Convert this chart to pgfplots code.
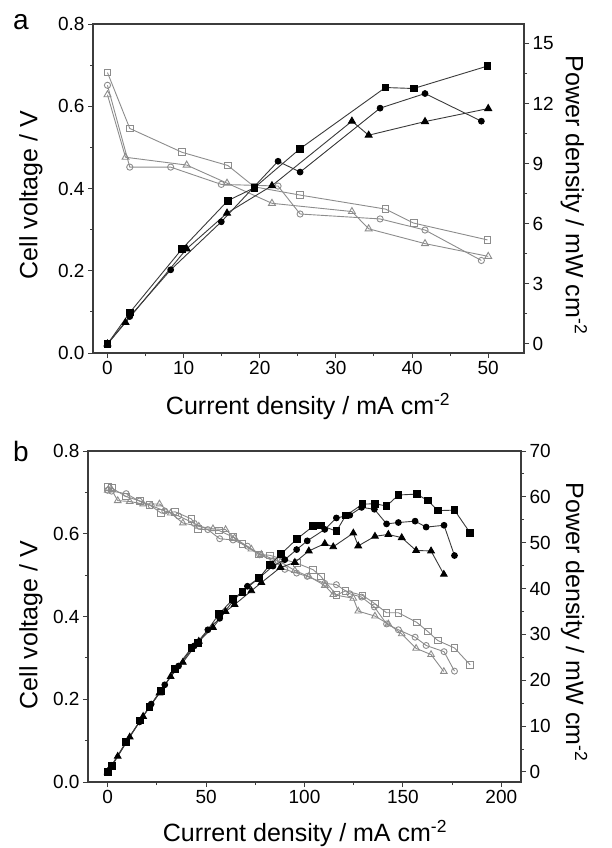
\documentclass[border=0pt]{standalone}
\usepackage{fontspec}
\setmainfont{Liberation Sans}
\usepackage{pgfplots}
\pgfplotsset{compat=1.18}

\definecolor{axc}{HTML}{3C3C3C}
\definecolor{opc}{HTML}{8C8C8C}
\definecolor{flc}{HTML}{3A3A3A}

\pgfplotsset{
 base/.style={scale only axis, anchor=south west, tick align=outside,
   axis line style={draw=axc, line width=1.1pt},
   major tick length=5pt, minor tick length=3pt,
   every tick/.append style={draw=axc, line width=1pt},
   minor x tick num=1, minor y tick num=1,
   tick label style={font=\fontsize{19}{21}\selectfont, text=black},
   label style={font=\fontsize{25}{28}\selectfont},
   /pgf/number format/assume math mode=true,
   clip=false},
 op/.style={color=opc, line width=0.9pt, mark options={draw=opc, fill=white, line width=0.9pt, solid}},
 fl/.style={color=flc, line width=0.9pt, mark options={draw=black, fill=black, solid}},
}

\begin{document}
\begin{tikzpicture}
\useasboundingbox (0pt,0pt) rectangle (612pt,-848pt);

% ---------------- Panel a: voltage ----------------
\begin{axis}[base, at={(93pt,-353pt)}, width=431pt, height=329pt,
  xmin=-1.9, xmax=54.7, ymin=0, ymax=0.8,
  xtick={0,10,20,30,40,50}, ytick={0,0.2,0.4,0.6,0.8},
  xtick pos=lower, ytick pos=left,
  yticklabel style={/pgf/number format/.cd, fixed, fixed zerofill, precision=1},
  xlabel={Current density / mA cm\textsuperscript{-2}},
  ylabel={Cell voltage / V},
  xlabel style={at={(axis description cs:0.499,-0.188)}, anchor=base},
  ylabel style={at={(axis description cs:-0.129,0.48)}, anchor=base}]
\addplot[op, mark=square, mark size=3.4pt] coordinates {
(0,0.682) (2.93,0.546) (9.8,0.488) (15.8,0.456) (19.3,0.404) (25.3,0.384) (36.5,0.350) (40.2,0.316) (49.9,0.275)};
\addplot[op, mark=o, mark size=3.1pt] coordinates {
(0,0.651) (2.93,0.452) (8.3,0.452) (14.95,0.410) (22.4,0.406) (25.3,0.338) (35.8,0.326) (41.7,0.299) (49.1,0.225)};
\addplot[op, mark=triangle, mark size=4pt] coordinates {
(0,0.628) (2.37,0.476) (10.4,0.457) (15.7,0.413) (21.6,0.364) (32.1,0.344) (34.3,0.302) (41.7,0.266) (50,0.235)};
\end{axis}

% ---------------- Panel a: power ----------------
\begin{axis}[base, at={(93pt,-353pt)}, width=431pt, height=329pt,
  xmin=-1.9, xmax=54.7, ymin=-0.45, ymax=15.97,
  axis x line=none, axis y line*=right,
  ytick={0,3,6,9,12,15},
  ylabel={Power density / mW cm\textsuperscript{-2}},
  ylabel style={at={(axis description cs:1.097,0.48)}, anchor=base, rotate=180}]
\addplot[fl, mark=square*, mark size=3.4pt] coordinates {
(0,0) (2.93,1.57) (9.8,4.75) (15.8,7.15) (19.3,7.8) (25.3,9.75) (36.5,12.8) (40.2,12.75) (49.9,13.87)};
\addplot[fl, mark=*, mark size=2.9pt] coordinates {
(0,0) (2.93,1.37) (8.3,3.7) (14.95,6.1) (22.4,9.12) (25.3,8.58) (35.8,11.77) (41.7,12.5) (49.1,11.12)};
\addplot[fl, mark=triangle*, mark size=4pt] coordinates {
(0,0) (2.37,1.07) (10.4,4.75) (15.7,6.53) (21.6,7.9) (32.1,11.12) (34.3,10.42) (41.7,11.1) (50,11.75)};
\end{axis}

% ---------------- Panel b: voltage ----------------
\begin{axis}[base, at={(88pt,-782pt)}, width=433pt, height=331pt,
  xmin=-10, xmax=210, ymin=0, ymax=0.8,
  xtick={0,50,100,150,200}, ytick={0,0.2,0.4,0.6,0.8},
  xtick pos=lower, ytick pos=left,
  yticklabel style={/pgf/number format/.cd, fixed, fixed zerofill, precision=1},
  xlabel={Current density / mA cm\textsuperscript{-2}},
  ylabel={Cell voltage / V},
  xlabel style={at={(axis description cs:0.501,-0.181)}, anchor=base},
  ylabel style={at={(axis description cs:-0.117,0.474)}, anchor=base}]
\addplot[op, mark=square, mark size=3.3pt] coordinates {
(0,0.713) (2.2,0.710) (9.4,0.690) (16.5,0.679) (21.2,0.670) (27.2,0.650) (34.3,0.653) (42.5,0.636) (46.0,0.611) (56.5,0.608) (63.7,0.592) (68.4,0.575) (76.9,0.550) (82.3,0.548) (88.0,0.540) (96.1,0.529) (104.4,0.513) (108.3,0.497) (116.2,0.452) (120.9,0.462) (129.5,0.451) (135.8,0.431) (141.7,0.409) (147.7,0.409) (157.0,0.386) (162.6,0.364) (167.7,0.342) (176.2,0.324) (184.2,0.283)};
\addplot[op, mark=o, mark size=3pt] coordinates {
(0,0.705) (2.0,0.703) (9.4,0.697) (16.1,0.679) (22.1,0.668) (29.0,0.655) (36.0,0.643) (44.0,0.625) (50.9,0.610) (56.9,0.588) (63.7,0.585) (71.0,0.570) (77.2,0.549) (84.0,0.535) (90.0,0.514) (96.0,0.505) (101.4,0.497) (110.3,0.480) (116.2,0.477) (123.0,0.455) (129.0,0.447) (135.5,0.423) (141.7,0.382) (147.7,0.368) (156.2,0.350) (161.8,0.330) (170.9,0.315) (176.2,0.268)};
\addplot[op, mark=triangle, mark size=3.8pt] coordinates {
(0,0.705) (1.7,0.709) (5.1,0.680) (11.2,0.678) (18.0,0.672) (26.3,0.672) (32.0,0.650) (38.2,0.626) (46.3,0.618) (53.5,0.612) (59.9,0.610) (64.5,0.590) (73.0,0.563) (78.1,0.550) (87.8,0.532) (95.1,0.511) (102.2,0.497) (110.3,0.475) (114.6,0.453) (124.8,0.444) (127.3,0.413) (135.8,0.401) (142.6,0.382) (149.4,0.358) (156.7,0.323) (164.3,0.308) (170.8,0.267)};
\end{axis}

% ---------------- Panel b: power ----------------
\begin{axis}[base, at={(88pt,-782pt)}, width=433pt, height=331pt,
  xmin=-10, xmax=210, ymin=-2.2, ymax=70,
  axis x line=none, axis y line*=right,
  ytick={0,10,20,30,40,50,60,70},
  ylabel={Power density / mW cm\textsuperscript{-2}},
  ylabel style={at={(axis description cs:1.104,0.483)}, anchor=base, rotate=180}]
\addplot[fl, mark=square*, mark size=3.3pt] coordinates {
(0,0) (2.2,1.3) (9.4,6.5) (16.5,11.2) (21.2,14.2) (27.2,17.7) (34.3,22.4) (42.5,27.0) (46.0,28.1) (56.5,34.4) (63.7,37.7) (68.4,39.3) (76.9,42.3) (82.3,45.1) (88.0,47.5) (96.1,50.8) (104.4,53.6) (108.3,53.8) (116.2,52.5) (120.9,55.9) (129.5,58.4) (135.8,58.5) (141.7,58.0) (147.7,60.4) (157.0,60.6) (162.6,59.2) (167.7,57.0) (176.2,57.1) (184.2,52.1)};
\addplot[fl, mark=*, mark size=2.9pt] coordinates {
(0,0) (2.0,1.4) (9.4,6.6) (16.1,10.9) (22.1,14.8) (29.0,19.0) (36.0,23.1) (44.0,27.5) (50.9,31.0) (56.9,33.5) (63.7,37.3) (71.0,40.5) (77.2,42.4) (84.0,44.9) (90.0,46.3) (96.0,48.5) (101.4,50.4) (110.3,52.9) (116.2,55.4) (123.0,56.0) (129.0,57.7) (135.5,57.3) (141.7,54.1) (147.7,54.4) (156.2,54.7) (161.8,53.4) (170.9,53.8) (176.2,47.2)};
\addplot[fl, mark=triangle*, mark size=3.8pt] coordinates {
(0,0) (1.7,1.2) (5.1,3.4) (11.2,7.6) (18.0,12.1) (26.3,17.2) (32.0,20.8) (38.2,23.9) (46.3,28.5) (53.5,31.5) (59.9,35.0) (64.5,36.5) (73.0,39.5) (78.1,41.3) (87.8,44.6) (95.1,45.7) (102.2,48.2) (110.3,49.8) (114.6,49.1) (124.8,52.1) (127.3,49.3) (135.8,51.4) (142.6,51.8) (149.4,51.1) (156.7,48.3) (164.3,48.2) (170.8,43.1)};
\end{axis}

\node[font=\fontsize{28}{30}\selectfont, anchor=base] at (21pt,-30pt) {a};
\node[font=\fontsize{28}{30}\selectfont, anchor=base] at (21pt,-461pt) {b};
\end{tikzpicture}
\end{document}
